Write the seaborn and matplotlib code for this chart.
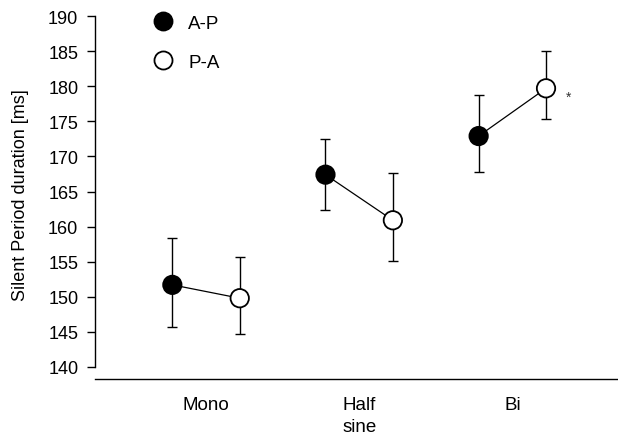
import numpy as np
import pandas as pd
import seaborn as sns
import matplotlib
matplotlib.use("Agg")
import matplotlib.pyplot as plt
from matplotlib.lines import Line2D

categories = ["Mono", "Half\nsine", "Bi"]
directions = ["A-P", "P-A"]
ap_mean = [151.7, 167.4, 172.9]
pa_mean = [149.8, 160.9, 179.7]
ap_err_hi = [158.4, 172.5, 178.7]
ap_err_lo = [145.7, 162.4, 167.8]
pa_err_hi = [155.7, 167.6, 185.0]
pa_err_lo = [144.7, 155.1, 175.3]
y_ticks = [140, 145, 150, 155, 160, 165, 170, 175, 180, 185, 190]

sns.set_theme(style="white")
plt.rcParams["font.family"] = ["Liberation Sans", "DejaVu Sans"]
plt.rcParams["text.color"] = "black"
plt.rcParams["axes.labelcolor"] = "black"
plt.rcParams["xtick.color"] = "black"
plt.rcParams["ytick.color"] = "black"

offset = 0.22
rows = []
for i, c in enumerate(categories):
    rows.append(dict(cat=c, idx=i, dir="A-P", x=i - offset, y=ap_mean[i], lo=ap_err_lo[i], hi=ap_err_hi[i]))
    rows.append(dict(cat=c, idx=i, dir="P-A", x=i + offset, y=pa_mean[i], lo=pa_err_lo[i], hi=pa_err_hi[i]))
df = pd.DataFrame(rows)

fig = plt.figure(figsize=(6.18, 4.35), dpi=100)
ax = fig.add_axes([95 / 618, 55 / 435, 1 - 95 / 618, 370 / 435])

# connecting lines
sns.lineplot(data=df, x="x", y="y", units="cat", estimator=None, color="black",
             linewidth=0.9, ax=ax, legend=False, zorder=1)
# error bars
for _, r in df.iterrows():
    ax.errorbar(r["x"], r["y"], yerr=[[r["y"] - r["lo"]], [r["hi"] - r["y"]]],
                fmt="none", ecolor="black", elinewidth=1.0, capsize=3.5, capthick=1.0, zorder=2)
# markers
sns.scatterplot(data=df, x="x", y="y", hue="dir", palette={"A-P": "black", "P-A": "white"},
                edgecolor="black", linewidth=1.3, s=175, ax=ax, legend=False, zorder=3)

# significance star
bi = df[(df["idx"] == 2) & (df["dir"] == "P-A")].iloc[0]
ax.text(bi["x"] + 0.15, bi["y"] - 1.2, "*", fontsize=10, ha="center", va="center", color="#333333")

ax.set_xlim(-0.725, 2.69)
ax.set_ylim(138.29, 191.0)
ax.set_xticks(range(len(categories)))
ax.set_xticklabels(categories, fontsize=13.5, linespacing=1.4)
ax.set_yticks(y_ticks)
ax.set_yticklabels([str(t) for t in y_ticks], fontsize=13)
ax.tick_params(axis="x", length=0, pad=12)
ax.tick_params(axis="y", direction="out", length=6, width=1, color="black", left=True, pad=6)
ax.set_xlabel("")
ax.set_ylabel("Silent Period duration [ms]", fontsize=13, labelpad=14)

for s in ["top", "right"]:
    ax.spines[s].set_visible(False)
ax.spines["left"].set_bounds(140, 190)
ax.spines["left"].set_color("black")
ax.spines["bottom"].set_color("black")
ax.spines["left"].set_linewidth(1.0)
ax.spines["bottom"].set_linewidth(1.0)

handles = [Line2D([], [], marker="o", linestyle="none", markerfacecolor="black", markeredgecolor="black",
                  markersize=13, markeredgewidth=1.3),
           Line2D([], [], marker="o", linestyle="none", markerfacecolor="white", markeredgecolor="black",
                  markersize=13, markeredgewidth=1.3)]
ax.legend(handles, directions, loc="upper left", bbox_to_anchor=(0.08, 1.03), frameon=False,
          fontsize=13.5, handletextpad=0.83, labelspacing=1.17, handlelength=1.0)

fig.savefig("out.png", dpi=100)
